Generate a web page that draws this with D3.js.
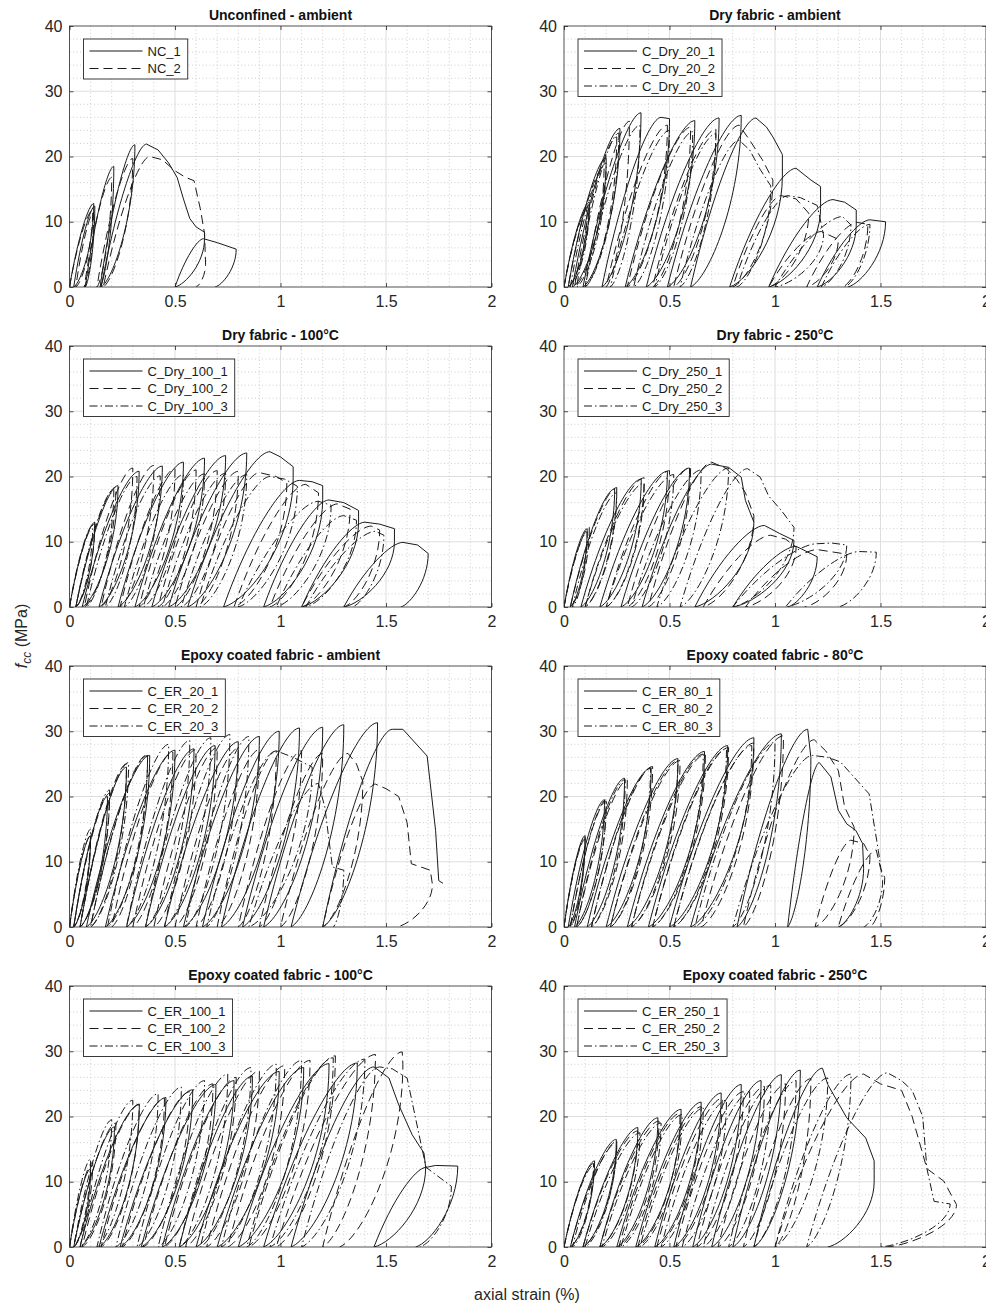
<!DOCTYPE html>
<html>
<head>
<meta charset="UTF-8">
<title>Cyclic compression curves</title>
<script src="https://d3js.org/d3.v7.min.js"></script>
<style>
  body { margin: 0; background: #fff; }
  svg { font-family: "Liberation Sans", Arial, Helvetica, sans-serif; }
</style>
</head>
<body>
<div id="chart"></div>
<script>
// each cycle: [residual strain, peak strain, peak stress, optional post-peak points]
const xTicks = [0, 0.5, 1, 1.5, 2];
const yTicks = [0, 10, 20, 30, 40];

const NC_1 = [[0,0.115,12.8],[0.02,0.12,12.4],[0.075,0.21,18.5],[0.145,0.31,21.8],
  [0.15,0.365,21.9,[[0.42,21],[0.47,19],[0.51,16.8],[0.54,13.5],[0.57,10.5],[0.6,9.2],[0.64,8.4],[0.64,7.4]]],
  [0.5,0.635,7.4,[[0.7,6.8],[0.79,5.8]]]];
const NC_2 = [[0,0.11,11.8],[0.03,0.115,11.5],[0.07,0.2,16.8],[0.13,0.3,19.7],
  [0.16,0.38,20,[[0.44,19.5],[0.5,17.8],[0.55,16.8],[0.59,16.3],[0.62,12],[0.64,8.2],[0.645,3.5]]]];

const D20_1 = [[0,0.12,13],[0.02,0.2,19.8],[0.04,0.265,24.3],[0.09,0.365,26.7],[0.18,0.46,26,[[0.5,25.8]]],
  [0.29,0.62,25.5],[0.39,0.735,25.9],[0.49,0.84,26.3],
  [0.6,0.91,25.9,[[0.96,24.5],[0.99,23],[1.035,20.3],[1.035,17]]],
  [0.785,1.1,18.2,[[1.17,16.4],[1.216,15.4],[1.216,12]]],
  [0.97,1.275,13.4,[[1.33,13],[1.385,11.8],[1.385,9.5]]],
  [1.2,1.45,10.3,[[1.524,10]]]];
const D20_2 = [[0,0.11,12],[0.02,0.19,18.5],[0.05,0.25,23],[0.1,0.31,25.4],[0.2,0.49,24.8],[0.3,0.6,24.5],
  [0.42,0.72,24.2],[0.52,0.83,24.8,[[0.88,22.5],[0.94,19.5],[0.99,16.4]]],
  [0.8,1.03,14,[[1.1,13.5],[1.16,11.3]]],
  [0.97,1.22,8.5,[[1.3,7.3]]],
  [1.15,1.39,9.9,[[1.44,9.6]]]];
const D20_3 = [[0,0.12,12.5],[0.03,0.2,19],[0.06,0.26,23.6],[0.1,0.36,24.8],[0.22,0.5,24],[0.33,0.61,23.8],
  [0.43,0.72,23.5],[0.55,0.83,22.5,[[0.88,21],[0.93,18],[0.98,15.5]]],
  [0.82,1.06,14,[[1.12,13.7],[1.2,12.5],[1.23,8]]],
  [1.0,1.32,10.8,[[1.36,9.5]]],
  [1.22,1.45,9.6]];

const D100_1 = [[0,0.12,13],[0.03,0.23,18.6],[0.06,0.33,20.8],[0.14,0.44,21.6],[0.23,0.54,22.2],[0.31,0.64,22.8],
  [0.39,0.74,23.2],[0.47,0.84,23.6],
  [0.56,0.95,23.8,[[1.0,23],[1.06,21.5],[1.06,19.8]]],
  [0.73,1.09,19.4,[[1.15,19.2],[1.2,18.6],[1.2,16.5]]],
  [0.92,1.23,16.4,[[1.3,16],[1.37,14.8],[1.37,13]]],
  [1.1,1.4,13,[[1.47,12.7],[1.54,12],[1.54,10]]],
  [1.3,1.58,9.9,[[1.65,9.5],[1.7,8.2]]]];
const D100_2 = [[0,0.12,12.8],[0.03,0.22,18.4],[0.07,0.3,21.3],[0.15,0.4,21.7],[0.24,0.5,21.2],[0.33,0.6,21],
  [0.42,0.7,20.9],[0.5,0.8,20.8],[0.6,0.9,20.6,[[0.98,20],[1.03,19]]],
  [0.78,1.12,18.8,[[1.18,17.5]]],
  [0.95,1.27,15.8,[[1.33,15]]],
  [1.1,1.43,12.4,[[1.47,11.8]]]];
const D100_3 = [[0,0.11,12.5],[0.03,0.21,18],[0.08,0.32,20],[0.17,0.43,20.1],[0.26,0.54,20.3],[0.35,0.64,20.4],
  [0.44,0.74,20.5],[0.53,0.84,20.3],[0.62,0.95,20,[[1.02,19.6],[1.08,18.5]]],
  [0.8,1.18,16.2,[[1.24,15.6]]],
  [0.98,1.3,14,[[1.36,13.3]]],
  [1.12,1.45,11.6,[[1.49,11]]]];

const D250_1 = [[0,0.11,12],[0.03,0.24,18.1],[0.08,0.366,19.6],[0.17,0.49,20.8],[0.27,0.595,21.3],
  [0.37,0.7,21.9,[[0.78,21.4],[0.84,19.9],[0.86,16.3],[0.9,13]]],
  [0.62,0.95,12.5,[[1.02,11.3],[1.09,10.2]]],
  [0.8,1.1,9.3,[[1.2,7.7]]]];
const D250_2 = [[0,0.12,12.2],[0.03,0.25,18.3],[0.1,0.38,19.8],[0.2,0.5,20.9],[0.3,0.6,21.4],
  [0.4,0.7,22.2,[[0.77,21.2],[0.82,19.5],[0.86,17.5],[0.9,14]]],
  [0.66,0.98,11,[[1.05,10.4],[1.1,9.2]]],
  [0.86,1.2,8.8,[[1.28,8.4],[1.34,8.1]]]];
const D250_3 = [[0,0.11,11.5],[0.04,0.25,17.5],[0.1,0.38,19],[0.2,0.52,20.3],[0.32,0.65,21],[0.44,0.78,21.3],
  [0.55,0.87,21.2,[[0.93,19.9],[0.97,17],[1.03,14.8],[1.09,12.2]]],
  [0.8,1.2,9.7,[[1.27,9.8],[1.34,9.5]]],
  [1.05,1.4,8.5,[[1.48,8.4]]]];

const ER20_1 = [[0,0.1,14],[0.02,0.18,20],[0.05,0.27,24.5],[0.08,0.38,26.3],[0.17,0.5,27.1],[0.27,0.59,27.3],
  [0.36,0.69,27.8],[0.45,0.8,28.4],[0.54,0.9,29.2],[0.63,0.994,30],[0.72,1.09,30.5],[0.82,1.2,30.6],
  [0.92,1.3,31],[1.05,1.46,31.3],
  [1.2,1.53,30.3,[[1.58,30.3],[1.695,26.2],[1.735,14.8],[1.75,7.1],[1.77,6.7]]]];
const ER20_2 = [[0,0.1,14],[0.02,0.19,20.5],[0.05,0.27,25],[0.1,0.37,26.5],[0.2,0.49,26.8],[0.3,0.6,27.2],
  [0.4,0.7,27.5],[0.5,0.8,27.4],[0.6,0.9,27.2],[0.7,0.98,27],[0.8,1.1,27],[0.9,1.2,26.6],
  [1.0,1.32,26.6,[[1.36,25],[1.39,22.3]]],
  [1.2,1.45,21.9,[[1.5,21.2],[1.56,20],[1.6,16],[1.62,9.7],[1.71,8.7],[1.72,6.5]]]];
const ER20_3 = [[0,0.1,15],[0.02,0.19,21],[0.05,0.28,25.2],[0.1,0.37,26.3],[0.18,0.47,28],[0.27,0.57,28.6],
  [0.36,0.67,29],[0.45,0.76,29.5],[0.55,0.85,29.2],[0.65,0.98,27,[[1.06,26],[1.15,24.5]]],
  [0.85,1.18,22,[[1.21,18.4],[1.246,9.2],[1.3,8.7]]]];

const ER80_1 = [[0,0.1,14],[0.02,0.192,19.5],[0.05,0.287,22.8],[0.11,0.413,24.4],[0.2,0.54,25.8],[0.3,0.666,26.9],
  [0.4,0.776,27.8],[0.5,0.9,29],[0.6,1.03,29.6],[0.82,1.155,30.3,[[1.17,26]]],
  [1.06,1.21,25.2,[[1.265,23],[1.3,17.9],[1.34,15.8],[1.383,14.8],[1.415,12.8],[1.42,9]]]];
const ER80_2 = [[0,0.1,13.5],[0.03,0.2,19.3],[0.06,0.3,22.5],[0.13,0.42,24.6],[0.22,0.55,25.5],[0.32,0.67,26.5],
  [0.42,0.78,27.5],[0.52,0.9,28.2],[0.65,1.04,29.3],
  [0.85,1.186,28.7,[[1.24,27],[1.3,24],[1.33,18.4],[1.375,15.3]]],
  [1.19,1.36,13.3,[[1.42,12.8],[1.45,11]]],
  [1.3,1.48,11.8,[[1.5,9],[1.52,7.6]]]];
const ER80_3 = [[0,0.1,13.8],[0.03,0.2,19.5],[0.06,0.29,22.6],[0.13,0.41,24.3],[0.22,0.54,25.5],[0.32,0.66,26.5],
  [0.42,0.77,27.3],[0.52,0.89,27.8],[0.62,1.0,28.3],
  [0.8,1.178,26.3,[[1.25,26],[1.31,25.3],[1.446,20.4],[1.49,11.7],[1.51,7.1]]]];

const ER100_1 = [[0,0.1,12],[0.02,0.213,18.4],[0.05,0.331,21.9],[0.14,0.457,22.9],[0.24,0.584,24.1],[0.34,0.694,24.9],
  [0.44,0.78,25.5],[0.52,0.867,26.2],[0.6,0.994,26.9],[0.7,1.11,27.5],[0.8,1.23,28.1],[0.92,1.364,28.2],
  [1.05,1.443,27.6,[[1.514,25.9],[1.56,21.8],[1.624,17.2],[1.68,14.4],[1.688,12.2]]],
  [1.443,1.69,12.2,[[1.735,12.5],[1.84,12.4]]]];
const ER100_2 = [[0,0.11,13],[0.02,0.22,19],[0.06,0.33,21.8],[0.15,0.45,22.8],[0.25,0.57,23.8],[0.35,0.68,25],
  [0.45,0.79,26],[0.55,0.9,27],[0.65,1.02,27.8],[0.75,1.14,28.6],[0.85,1.26,29.3],[0.98,1.45,29.5],
  [1.2,1.577,29.9,[[1.58,28]]]];
const ER100_3 = [[0,0.1,13.5],[0.02,0.2,19.5],[0.05,0.3,22.5],[0.13,0.42,23.5],[0.22,0.53,24.5],[0.32,0.64,25.5],
  [0.42,0.75,26.5],[0.52,0.86,27.5],[0.62,0.98,28],[0.72,1.1,28.6],[0.84,1.25,29],[0.95,1.4,28.8],
  [1.1,1.47,27.6,[[1.53,27.3],[1.6,25.9],[1.66,16.7],[1.69,12.2],[1.81,9.3]]]];

const ER250_1 = [[0,0.145,13.2],[0.03,0.248,16.5],[0.09,0.35,18.3],[0.17,0.445,19.8],[0.25,0.555,21.1],[0.34,0.65,22.2],
  [0.43,0.745,23.6],[0.52,0.84,24.9],[0.61,0.934,25.5],[0.7,1.03,26.4],[0.8,1.12,27.1],
  [0.9,1.225,27.4,[[1.25,24.9],[1.34,19.8],[1.43,16.7],[1.47,13.2],[1.47,10]]]];
const ER250_2 = [[0,0.14,12.8],[0.03,0.25,16],[0.09,0.35,17.8],[0.17,0.45,19.3],[0.26,0.55,20.5],[0.35,0.65,21.5],
  [0.44,0.75,22.8],[0.53,0.85,23.8],[0.63,0.95,24.6],[0.73,1.05,25],[0.85,1.17,25.8],
  [1.0,1.42,26.5,[[1.5,25],[1.6,24],[1.65,20],[1.72,12],[1.8,10.1],[1.86,6.5]]]];
const ER250_3 = [[0,0.14,12.5],[0.04,0.25,16.2],[0.1,0.36,17.5],[0.18,0.46,19],[0.27,0.56,20.3],[0.36,0.66,21.3],
  [0.46,0.77,22.5],[0.56,0.88,23.8],[0.66,0.98,24.8],[0.78,1.1,25.5],[0.9,1.25,25.9],[1.0,1.36,26.5],
  [1.15,1.533,26.7,[[1.6,25.5],[1.65,24],[1.7,20],[1.72,12],[1.754,7],[1.83,6.6]]]];

// final residual strain after the last unloading (null = curve ends loaded)
const panels = [
  { title: "Unconfined - ambient", series: [["NC_1", NC_1, 0.69], ["NC_2", NC_2, 0.6]] },
  { title: "Dry fabric - ambient", series: [["C_Dry_20_1", D20_1, 1.345], ["C_Dry_20_2", D20_2, 1.32], ["C_Dry_20_3", D20_3, 1.33]] },
  { title: "Dry fabric - 100°C", series: [["C_Dry_100_1", D100_1, 1.57], ["C_Dry_100_2", D100_2, 1.3], ["C_Dry_100_3", D100_3, 1.34]] },
  { title: "Dry fabric - 250°C", series: [["C_Dry_250_1", D250_1, 1.06], ["C_Dry_250_2", D250_2, 1.14], ["C_Dry_250_3", D250_3, 1.3]] },
  { title: "Epoxy coated fabric - ambient", series: [["C_ER_20_1", ER20_1, null], ["C_ER_20_2", ER20_2, 1.55], ["C_ER_20_3", ER20_3, 1.25]] },
  { title: "Epoxy coated fabric - 80°C", series: [["C_ER_80_1", ER80_1, 1.3], ["C_ER_80_2", ER80_2, 1.45], ["C_ER_80_3", ER80_3, 1.42]] },
  { title: "Epoxy coated fabric - 100°C", series: [["C_ER_100_1", ER100_1, 1.64], ["C_ER_100_2", ER100_2, 1.28], ["C_ER_100_3", ER100_3, 1.66]] },
  { title: "Epoxy coated fabric - 250°C", series: [["C_ER_250_1", ER250_1, 1.25], ["C_ER_250_2", ER250_2, 1.53], ["C_ER_250_3", ER250_3, 1.5]] }
];

const dashes = [null, "9,5", "8,3,1.5,3"];
const colLeft = [69.5, 564], plotW = 422;
const rowTop = [26, 346, 666, 986], plotH = 261;

const svg = d3.select("#chart").append("svg")
  .attr("width", 986).attr("height", 1305);

function reload(p, X0, Y0, X1, Y1) {
  const dx = X1 - X0, dy = Y1 - Y0;
  p.bezierCurveTo(X0 + 0.35 * dx, Y0 + 0.6 * dy, X1 - 0.2 * dx, Y1, X1, Y1);
}
function unload(p, X1, Y1, Xr, Y0) {
  const dx = X1 - Xr, dy = Y0 - Y1;
  p.bezierCurveTo(X1, Y1 + 0.5 * dy, Xr + 0.35 * dx, Y0 - 0.05 * dy, Xr, Y0);
}

function curvePath(cycles, end, x, y) {
  const p = d3.path();
  let cx, cy;
  cycles.forEach((c, i) => {
    const [r, pk, st, tail] = c;
    if (i === 0) p.moveTo(x(r), y(0));
    else unload(p, x(cx), y(cy), x(r), y(0));
    reload(p, x(r), y(0), x(pk), y(st));
    cx = pk; cy = st;
    (tail || []).forEach(([tx, ty]) => { p.lineTo(x(tx), y(ty)); cx = tx; cy = ty; });
  });
  if (end != null) unload(p, x(cx), y(cy), x(end), y(0));
  return p.toString();
}

panels.forEach((pn, i) => {
  const left = colLeft[i % 2], top = rowTop[Math.floor(i / 2)];
  const x = d3.scaleLinear().domain([0, 2]).range([left, left + plotW]);
  const y = d3.scaleLinear().domain([0, 40]).range([top + plotH, top]);
  const g = svg.append("g");

  // minor grid
  const minorX = d3.range(0.1, 2, 0.1).filter(v => Math.abs(v * 2 - Math.round(v * 2)) > 1e-6);
  const minorY = d3.range(2, 40, 2).filter(v => v % 10 !== 0);
  g.selectAll(".mx").data(minorX).join("line")
    .attr("x1", d => x(d)).attr("x2", d => x(d)).attr("y1", top).attr("y2", top + plotH)
    .attr("stroke", "#c4c4c4").attr("stroke-width", 0.8).attr("stroke-dasharray", "1,2.5");
  g.selectAll(".my").data(minorY).join("line")
    .attr("y1", d => y(d)).attr("y2", d => y(d)).attr("x1", left).attr("x2", left + plotW)
    .attr("stroke", "#c4c4c4").attr("stroke-width", 0.8).attr("stroke-dasharray", "1,2.5");
  // major grid
  g.selectAll(".gx").data(xTicks.slice(1, -1)).join("line")
    .attr("x1", d => x(d)).attr("x2", d => x(d)).attr("y1", top).attr("y2", top + plotH)
    .attr("stroke", "#dedede").attr("stroke-width", 1);
  g.selectAll(".gy").data(yTicks.slice(1, -1)).join("line")
    .attr("y1", d => y(d)).attr("y2", d => y(d)).attr("x1", left).attr("x2", left + plotW)
    .attr("stroke", "#dedede").attr("stroke-width", 1);

  // curves
  const clipId = "clip" + i;
  svg.append("clipPath").attr("id", clipId).append("rect")
    .attr("x", left).attr("y", top).attr("width", plotW).attr("height", plotH);
  const cg = g.append("g").attr("clip-path", `url(#${clipId})`);
  pn.series.forEach(([name, cycles, end], k) => {
    cg.append("path")
      .attr("d", curvePath(cycles, end, x, y))
      .attr("fill", "none").attr("stroke", "#1a1a1a").attr("stroke-width", 1)
      .attr("stroke-dasharray", dashes[k]);
  });

  // axes (ticks inward, box)
  g.append("g").attr("transform", `translate(0,${top + plotH})`)
    .call(d3.axisBottom(x).tickValues(xTicks).tickSizeInner(-4).tickSizeOuter(0).tickPadding(9).tickFormat(d3.format("")))
    .call(a => a.select(".domain").remove());
  g.append("g").attr("transform", `translate(${left},0)`)
    .call(d3.axisLeft(y).tickValues(yTicks).tickSizeInner(-4).tickSizeOuter(0).tickPadding(7))
    .call(a => a.select(".domain").remove());
  g.append("g").attr("transform", `translate(0,${top})`)
    .call(d3.axisTop(x).tickValues(xTicks).tickSizeInner(-4).tickSizeOuter(0).tickFormat(""))
    .call(a => a.select(".domain").remove());
  g.append("g").attr("transform", `translate(${left + plotW},0)`)
    .call(d3.axisRight(y).tickValues(yTicks).tickSizeInner(-4).tickSizeOuter(0).tickFormat(""))
    .call(a => a.select(".domain").remove());
  g.selectAll(".tick line").attr("stroke", "#262626").attr("stroke-width", 0.8);
  g.selectAll(".tick text").attr("font-size", 16).attr("fill", "#262626")
    .attr("font-family", "'Liberation Sans', Arial, sans-serif");
  g.append("rect").attr("x", left).attr("y", top).attr("width", plotW).attr("height", plotH)
    .attr("fill", "none").attr("stroke", "#262626").attr("stroke-width", 0.8);

  // title
  g.append("text").attr("x", left + plotW / 2).attr("y", top - 6)
    .attr("text-anchor", "middle").attr("font-weight", "bold").attr("font-size", 14)
    .attr("fill", "#111").text(pn.title);

  // legend
  const lx = left + 14, ly = top + 13, rowH = 17.5;
  const lg = g.append("g");
  const box = lg.append("rect").attr("x", lx).attr("y", ly).attr("height", rowH * pn.series.length + 5)
    .attr("fill", "#fff").attr("stroke", "#262626").attr("stroke-width", 0.9);
  let maxW = 0;
  pn.series.forEach(([name], k) => {
    const yy = ly + 12 + k * rowH;
    lg.append("line").attr("x1", lx + 6).attr("x2", lx + 59).attr("y1", yy).attr("y2", yy)
      .attr("stroke", "#1a1a1a").attr("stroke-width", 1).attr("stroke-dasharray", dashes[k]);
    const t = lg.append("text").attr("x", lx + 64).attr("y", yy + 4.5)
      .attr("font-size", 13).attr("fill", "#1a1a1a").text(name);
    maxW = Math.max(maxW, t.node().getComputedTextLength());
  });
  box.attr("width", 64 + maxW + 7);
});

// shared axis labels
svg.append("text").attr("x", 527).attr("y", 1300).attr("text-anchor", "middle")
  .attr("font-size", 16).attr("fill", "#262626").text("axial strain (%)");
const yl = svg.append("text").attr("transform", "translate(27,636) rotate(-90)")
  .attr("text-anchor", "middle").attr("font-size", 16).attr("fill", "#262626");
yl.append("tspan").attr("font-style", "italic").text("f");
yl.append("tspan").attr("font-style", "italic").attr("font-size", 12).attr("dy", 4).text("cc");
yl.append("tspan").attr("dy", -4).text(" (MPa)");
</script>
</body>
</html>
